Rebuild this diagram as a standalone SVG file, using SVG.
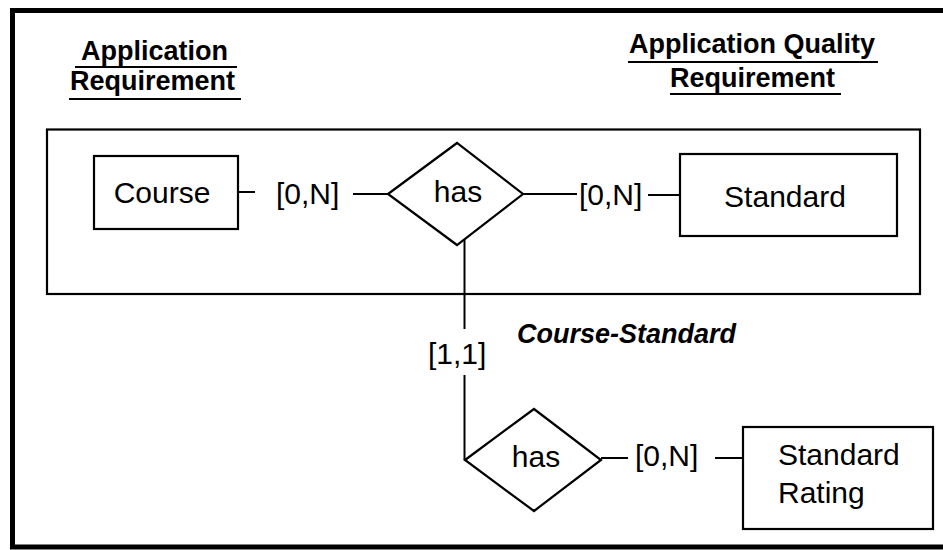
<svg xmlns="http://www.w3.org/2000/svg" width="943" height="550" viewBox="0 0 943 550">
  <style>
    .frame { fill: none; stroke: #000; stroke-width: 5; }
    .box { fill: #fff; stroke: #000; stroke-width: 2.2; }
    .line { fill: none; stroke: #000; stroke-width: 2; }
    .label { font-family: "Liberation Sans", Arial, sans-serif; font-size: 30px; fill: #000; }
    .title { font-family: "Liberation Sans", Arial, sans-serif; font-size: 27px; font-weight: bold; fill: #000; }
    .agg { font-family: "Liberation Sans", Arial, sans-serif; font-size: 27px; font-weight: bold; font-style: italic; fill: #000; }
    .uline { stroke: #000; stroke-width: 2; }
  </style>

  <rect width="943" height="550" fill="#fff"/>

  <!-- outer frame (open to the right edge) -->
  <path class="frame" d="M950,10.5 H12.5 V547 H950"/>

  <!-- headings -->
  <g id="heading-app">
    <text class="title" x="81" y="60">Application</text>
    <text class="title" x="70" y="90">Requirement</text>
    <line class="uline" x1="75" y1="67" x2="237" y2="67"/>
    <line class="uline" x1="69" y1="99" x2="241" y2="99"/>
  </g>
  <g id="heading-quality">
    <text class="title" x="629" y="53">Application Quality</text>
    <text class="title" x="670" y="86.5">Requirement</text>
    <line class="uline" x1="628" y1="62" x2="878" y2="62"/>
    <line class="uline" x1="670" y1="94" x2="841" y2="94"/>
  </g>

  <!-- aggregation box -->
  <g id="course-standard">
    <rect class="box" x="47" y="129.5" width="873" height="164.5" fill="none"/>
    <text class="agg" x="517" y="343">Course-Standard</text>
  </g>

  <!-- connectors -->
  <g id="connectors">
    <line class="line" x1="238" y1="192" x2="255" y2="192"/>
    <line class="line" x1="353" y1="194" x2="388" y2="194"/>
    <line class="line" x1="523" y1="194" x2="577" y2="194"/>
    <line class="line" x1="648" y1="195" x2="680" y2="195"/>
    <line class="line" x1="464.5" y1="239" x2="464.5" y2="329"/>
    <line class="line" x1="464.5" y1="375" x2="464.5" y2="460"/>
    <line class="line" x1="601" y1="458" x2="628" y2="458"/>
    <line class="line" x1="715" y1="458" x2="743" y2="458"/>
    <text class="label" x="276" y="204">[0,N]</text>
    <text class="label" x="579" y="205">[0,N]</text>
    <text class="label" x="428" y="364">[1,1]</text>
    <text class="label" x="635" y="466">[0,N]</text>
  </g>

  <!-- entities and relationships -->
  <g id="course">
    <rect class="box" x="94" y="156" width="144" height="73"/>
    <text class="label" x="162" y="203" text-anchor="middle">Course</text>
  </g>
  <g id="has-1">
    <polygon class="box" points="388,194 457,143 523,194 457,245"/>
    <text class="label" x="458" y="202" text-anchor="middle">has</text>
  </g>
  <g id="standard">
    <rect class="box" x="680" y="154" width="217" height="82"/>
    <text class="label" x="785" y="207" text-anchor="middle">Standard</text>
  </g>
  <g id="has-2">
    <polygon class="box" points="465,460 534,409 601,460 534,511"/>
    <text class="label" x="536" y="467" text-anchor="middle">has</text>
  </g>
  <g id="standard-rating">
    <rect class="box" x="743" y="427" width="190" height="102"/>
    <text class="label" x="778" y="465">Standard</text>
    <text class="label" x="778" y="503">Rating</text>
  </g>
</svg>
